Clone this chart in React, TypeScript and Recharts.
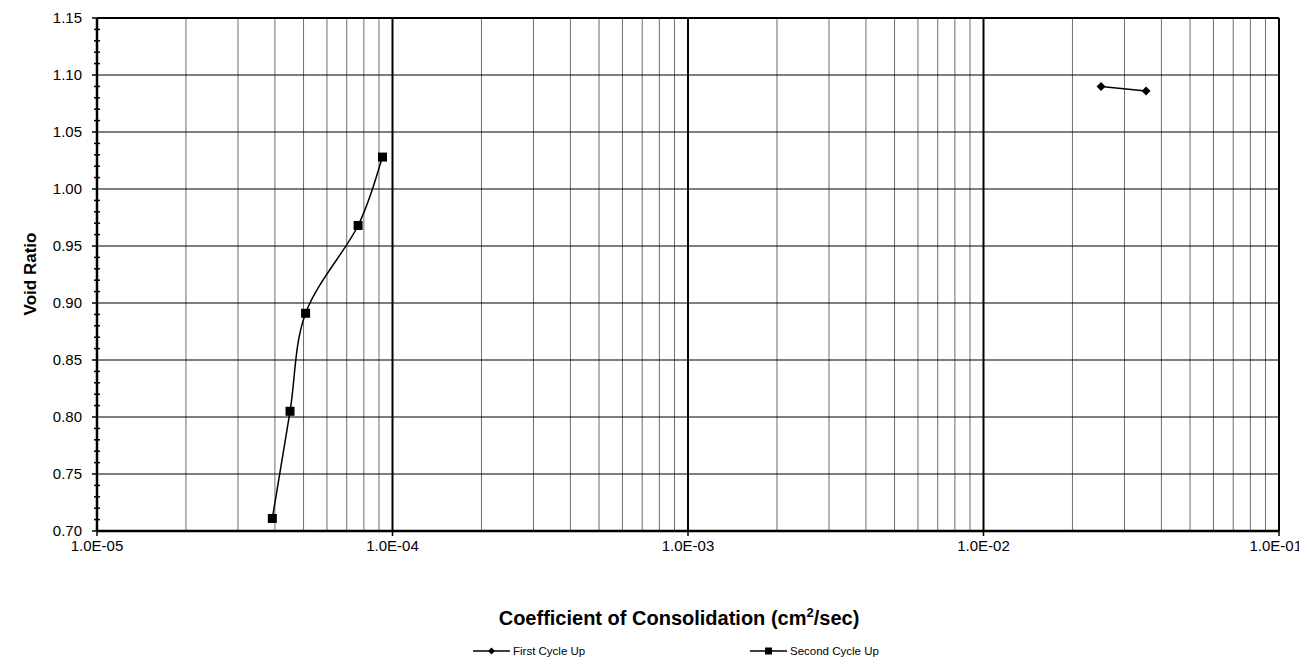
import React from 'react';
import {
  ScatterChart,
  Scatter,
  XAxis,
  YAxis,
  ReferenceLine,
  Legend
} from 'recharts';

// Coefficient of consolidation (cm2/sec) vs void ratio
const firstCycleCv = [2.5e-2, 3.55e-2];
const firstCycleVoid = [1.09, 1.086];

const secondCycleCv = [3.92e-5, 4.5e-5, 5.08e-5, 7.65e-5, 9.25e-5];
const secondCycleVoid = [0.711, 0.805, 0.891, 0.968, 1.028];

const xDecades = [1e-5, 1e-4, 1e-3, 1e-2, 1e-1];
const xMinorSteps = [2, 3, 4, 5, 6, 7, 8, 9];
const yMajorTicks = [0.7, 0.75, 0.8, 0.85, 0.9, 0.95, 1.0, 1.05, 1.1, 1.15];

const FONT = '"Liberation Sans", Arial, Helvetica, sans-serif';
const CHART_W = 1299;
const CHART_H = 664;

const firstCycle = firstCycleCv.map((x, i) => ({ x, y: firstCycleVoid[i] }));
const secondCycle = secondCycleCv.map((x, i) => ({ x, y: secondCycleVoid[i] }));

// minor gridlines 2..9 within each decade
const xMinorLines = xDecades.slice(0, -1).flatMap((d) => xMinorSteps.map((s) => s * d));
// y ticks every 0.01, majors every 0.05
const yAllTicks = yMajorTicks.slice(0, -1)
  .flatMap((v) => [0, 1, 2, 3, 4].map((k) => Math.round((v + k * 0.01) * 100) / 100))
  .concat([1.15]);

const isMajorY = (v: number) => yMajorTicks.some((m) => Math.abs(m - v) < 1e-6);

const formatCv = (v: number) => {
  const exp = Math.round(Math.log10(v));
  const sign = exp < 0 ? '-' : '+';
  const abs = Math.abs(exp);
  return `1.0E${sign}${abs < 10 ? '0' + abs : abs}`;
};

// Excel-style smoothed line (cubic bezier, neighbour tangents / 6)
const excelSmooth = (context: any) => {
  let pts: [number, number][] = [];
  return {
    areaStart() {},
    areaEnd() {},
    lineStart() {
      pts = [];
    },
    lineEnd() {
      if (!pts.length) return;
      context.moveTo(pts[0][0], pts[0][1]);
      for (let i = 0; i < pts.length - 1; i++) {
        const p0 = pts[Math.max(i - 1, 0)];
        const p1 = pts[i];
        const p2 = pts[i + 1];
        const p3 = pts[Math.min(i + 2, pts.length - 1)];
        context.bezierCurveTo(
          p1[0] + (p2[0] - p0[0]) / 6,
          p1[1] + (p2[1] - p0[1]) / 6,
          p2[0] - (p3[0] - p1[0]) / 6,
          p2[1] - (p3[1] - p1[1]) / 6,
          p2[0],
          p2[1]
        );
      }
    },
    point(x: number, y: number) {
      pts.push([x, y]);
    },
  };
};

const XTick = (props: any) => {
  const { x, y, payload, index } = props;
  const last = index === xDecades.length - 1;
  return (
    <text
      x={last ? x + 23 : x}
      y={y}
      dy="0.71em"
      textAnchor={last ? 'end' : 'middle'}
      fontFamily={FONT}
      fontSize={15}
      fill="#000"
    >
      {formatCv(payload.value)}
    </text>
  );
};

const YTick = (props: any) => {
  const { x, y, payload } = props;
  const v = payload.value as number;
  if (isMajorY(v)) {
    return (
      <g>
        <line x1={x - 5} x2={x} y1={y} y2={y} stroke="#000" strokeWidth={1.5} />
        <text x={x - 15} y={y} dy="0.35em" textAnchor="end" fontFamily={FONT} fontSize={15} fill="#000">
          {v.toFixed(2)}
        </text>
      </g>
    );
  }
  return <line x1={x - 3} x2={x + 3} y1={y} y2={y} stroke="#000" strokeWidth={1.5} />;
};

const XTitle = (props: any) => {
  const { viewBox } = props;
  const cx = viewBox.x + viewBox.width / 2 - 9;
  return (
    <text x={cx} y={viewBox.y + 94} textAnchor="middle" fontFamily={FONT} fontSize={20} fontWeight="bold" fill="#000">
      Coefficient of Consolidation (cm
      <tspan dy={-8} fontSize={13}>2</tspan>
      <tspan dy={8}>/sec)</tspan>
    </text>
  );
};

const YTitle = () => (
  <text
    x={22}
    y={266}
    transform="rotate(-90, 22, 266)"
    textAnchor="middle"
    dominantBaseline="central"
    fontFamily={FONT}
    fontSize={17}
    fontWeight="bold"
    fill="#000"
  >
    Void Ratio
  </text>
);

const Diamond = (props: any) => {
  const { cx, cy } = props;
  const r = 4.5;
  return <path d={`M${cx},${cy - r}L${cx + r},${cy}L${cx},${cy + r}L${cx - r},${cy}Z`} fill="#000" />;
};

const Square = (props: any) => {
  const { cx, cy } = props;
  return <rect x={cx - 4.5} y={cy - 4.5} width={9} height={9} fill="#000" />;
};

const LegendItem = ({ left, label, marker }: { left: number; label: string; marker: 'diamond' | 'square' }) => (
  <div style={{ position: 'absolute', left, top: 0, display: 'flex', alignItems: 'center', whiteSpace: 'nowrap' }}>
    <svg width={38} height={12}>
      <line x1={0} x2={37} y1={6} y2={6} stroke="#000" strokeWidth={1.5} />
      {marker === 'diamond'
        ? <path d="M18.5,2.5L22,6L18.5,9.5L15,6Z" fill="#000" />
        : <rect x={15} y={2.5} width={7} height={7} fill="#000" />}
    </svg>
    <span style={{ marginLeft: 2, fontFamily: FONT, fontSize: 11.5, color: '#000' }}>{label}</span>
  </div>
);

const renderLegend = () => (
  <div style={{ position: 'relative', width: CHART_W, height: 14 }}>
    <LegendItem left={465} label="First Cycle Up" marker="diamond" />
    <LegendItem left={742} label="Second Cycle Up" marker="square" />
  </div>
);

const App: React.FC = () => {
  return (
    <div style={{ width: CHART_W, height: CHART_H, background: '#fff' }}>
      <ScatterChart
        width={CHART_W}
        height={CHART_H}
        margin={{ top: 10, right: 28, bottom: 31, left: 0 }}
      >
        {xMinorLines.map((v) => (
          <ReferenceLine key={`xm${v}`} x={v} stroke="#6e6e6e" strokeWidth={1} />
        ))}
        {xDecades.slice(1, -1).map((v) => (
          <ReferenceLine key={`xd${v}`} x={v} stroke="#000" strokeWidth={2} />
        ))}
        {yMajorTicks.slice(1, -1).map((v) => (
          <ReferenceLine key={`yg${v}`} y={v} stroke="#000" strokeWidth={1} />
        ))}
        <ReferenceLine y={1.15} stroke="#000" strokeWidth={2} />
        <ReferenceLine x={1e-1} stroke="#000" strokeWidth={2} />

        <XAxis
          type="number"
          dataKey="x"
          scale="log"
          domain={[1e-5, 1e-1]}
          ticks={xDecades}
          interval={0}
          allowDataOverflow
          height={110}
          tick={<XTick />}
          tickLine={{ stroke: '#000', strokeWidth: 1.5 }}
          tickSize={5}
          tickMargin={4}
          axisLine={{ stroke: '#000', strokeWidth: 2.5 }}
          label={<XTitle />}
        />
        <YAxis
          type="number"
          dataKey="y"
          domain={[0.7, 1.15]}
          ticks={yAllTicks}
          interval={0}
          allowDataOverflow
          width={89}
          tick={<YTick />}
          tickLine={false}
          tickSize={0}
          tickMargin={0}
          axisLine={{ stroke: '#000', strokeWidth: 2.5 }}
          label={<YTitle />}
        />

        <Legend
          layout="horizontal"
          verticalAlign="middle"
          align="center"
          content={renderLegend}
          wrapperStyle={{ top: 637, left: 0, width: CHART_W }}
        />

        <Scatter
          name="First Cycle Up"
          data={firstCycle}
          line={{ stroke: '#000', strokeWidth: 1.5 }}
          lineJointType={excelSmooth as any}
          shape={<Diamond />}
          isAnimationActive={false}
        />
        <Scatter
          name="Second Cycle Up"
          data={secondCycle}
          line={{ stroke: '#000', strokeWidth: 1.5 }}
          lineJointType={excelSmooth as any}
          shape={<Square />}
          isAnimationActive={false}
        />
      </ScatterChart>
    </div>
  );
};

export default App;
